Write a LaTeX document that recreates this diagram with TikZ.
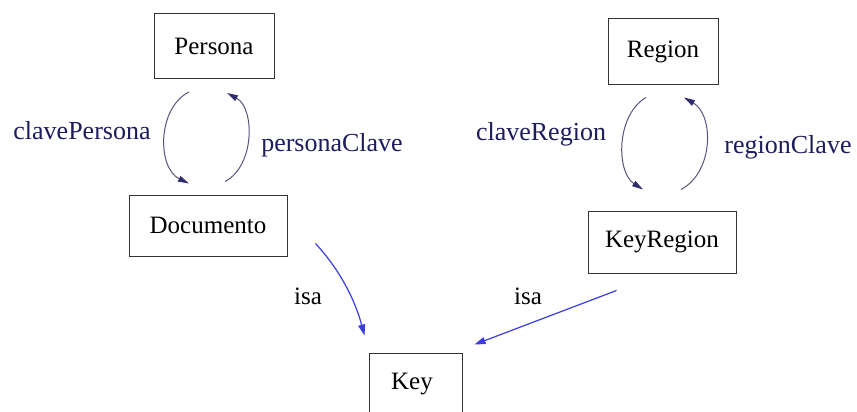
\documentclass[tikz,border=0pt]{standalone}
\usepackage{fontspec}
\setmainfont{Liberation Serif}
\usetikzlibrary{arrows.meta,calc}
\definecolor{arcline}{HTML}{55557F}
\definecolor{arctip}{HTML}{2E2E6E}
\definecolor{rolelabel}{HTML}{1C1C5E}
\definecolor{isablue}{HTML}{3B3BE6}
\begin{document}
\begin{tikzpicture}[x=1pt,y=-1pt,
  entity/.style={draw=black!80,line width=1pt,inner sep=0pt,
    font=\fontsize{25}{25}\selectfont},
  role/.style={draw=arcline,line width=1pt,
    -{Triangle[length=11pt,width=6pt,fill=arctip,color=arctip]}},
  rolename/.style={text=rolelabel,font=\fontsize{26}{26}\selectfont},
  isaline/.style={draw=isablue,line width=1.2pt,
    -{Triangle[length=11pt,width=7pt,color=isablue]}},
  isaname/.style={text=black,font=\fontsize{25}{25}\selectfont}]
\path[clip,use as bounding box] (0,0) rectangle (857,412);
\fill[white] (0,0) rectangle (857,412);

% entities
\node[entity,minimum width=120pt,minimum height=65pt] (persona) at (214,46) {Persona};
\node[entity,minimum width=158pt,minimum height=61pt] (documento) at (208,225.5) {Documento};
\node[entity,minimum width=110pt,minimum height=66pt] (region) at (663,52) {Region};
\node[entity,minimum width=148pt,minimum height=62pt] (keyregion) at (662,242) {KeyRegion};
\node[entity,minimum width=93pt,minimum height=74pt] (key) at (415.5,390) {};
\node[isaname] (keytext) at (412,384) {Key};

% arc end points next to the boxes
\coordinate (pd1) at ($(persona.south)+(-25,13)$);
\coordinate (pd2) at ($(documento.north)+(-19,-11)$);
\coordinate (dp1) at ($(documento.north)+(17,-13)$);
\coordinate (dp2) at ($(persona.south)+(13,14)$);
\coordinate (rk1) at ($(region.south)+(-17,12)$);
\coordinate (rk2) at ($(keyregion.north)+(-19,-21)$);
\coordinate (kr1) at ($(keyregion.north)+(19,-21)$);
\coordinate (kr2) at ($(region.south)+(21,12)$);
\coordinate (di1) at ($(documento.south east)+(28,-13)$);
\coordinate (ki1) at ($(keyregion.south west)+(29,17)$);

% Persona <-> Documento
\draw[role] (pd1) .. controls (157,108) and (157,168) .. (pd2);
\draw[role] (dp1) .. controls (255,166) and (255,108) .. (dp2);
\node[rolename] (clavePersona) at (82,131) {clavePersona};
\node[rolename] (personaClave) at (332,145) {personaClave};

% Region <-> KeyRegion
\draw[role] (rk1) .. controls (616,115) and (616,172) .. (rk2);
\draw[role] (kr1) .. controls (714,172) and (714,115) .. (kr2);
\node[rolename] (claveRegion) at (541,134) {claveRegion};
\node[rolename] (regionClave) at (788,147) {regionClave};

% isa links
\draw[isaline] (di1) .. controls (340,270) and (355,300) .. ($(key.north west)+(-4,-17)$);
\draw[isaline] (ki1) -- ($(key.north east)+(12,-8)$);
\node[isaname] (isa1) at (308,296) {isa};
\node[isaname] (isa2) at (528,296) {isa};
\end{tikzpicture}
\end{document}
